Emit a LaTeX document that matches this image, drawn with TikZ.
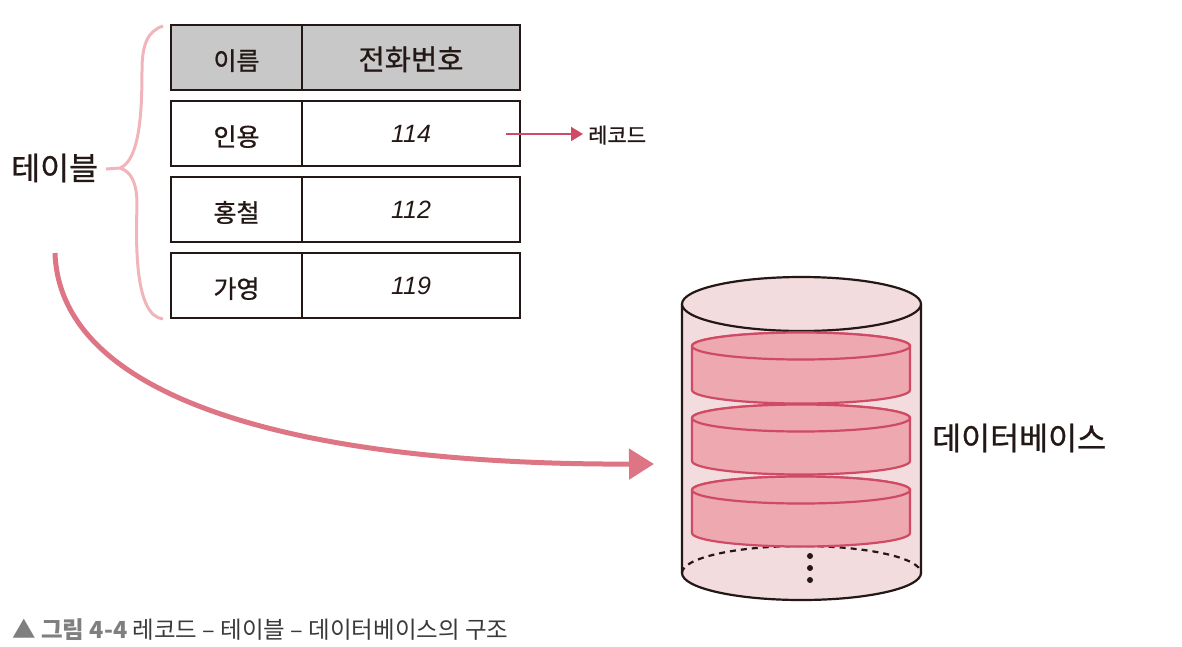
\documentclass[tikz,border=0pt]{standalone}
\usepackage{fontspec}
\usepackage{xcolor}
\usetikzlibrary{positioning,arrows.meta,calc}
\setmainfont{Noto Sans CJK KR}
\newfontfamily\numfont{Liberation Sans}
\newfontfamily\handfont[FakeBold=0.8]{Noto Sans CJK KR}
\definecolor{inkblack}{HTML}{231815}
\definecolor{headgray}{HTML}{C8C8C8}
\definecolor{bracepink}{HTML}{F0B4BA}
\definecolor{curverose}{HTML}{DD7585}
\definecolor{diskline}{HTML}{CF4A64}
\definecolor{diskfill}{HTML}{EEA8B0}
\definecolor{bodyfill}{HTML}{F3DCDE}
\definecolor{capgray}{HTML}{7F7F7F}
\definecolor{captext}{HTML}{3A3A3A}
\tikzset{
  namecell/.style={draw=inkblack,line width=2.4pt,minimum width=131pt,minimum height=65pt,inner sep=0pt,text height=25pt,text depth=0pt,font=\fontsize{25}{28}\selectfont\handfont,text=inkblack},
  phonecell/.style={draw=inkblack,line width=2.4pt,minimum width=218pt,minimum height=65pt,inner sep=0pt,text height=25pt,text depth=0pt,font=\fontsize{28.5}{30}\selectfont\handfont,text=inkblack},
  numtext/.style={text height=18pt,font=\fontsize{25}{28}\selectfont\numfont\itshape},
  disk/.style={draw=diskline,fill=diskfill,line width=2.2pt},
  body/.style={draw=inkblack,fill=bodyfill,line width=2.2pt},
  bigtext/.style={inner sep=0pt,text=inkblack,font=\fontsize{31.5}{34}\selectfont\handfont}
}
\begin{document}
\begin{tikzpicture}[x=1pt,y=-1pt]
    \useasboundingbox (0,0) rectangle (1182,646);
    % table
    \node[namecell,fill=headgray] (nameH) at (236.5,57.5) {이름};
    \node[phonecell,fill=headgray] (phoneH) at (411,57.5) {전화번호};
    \node[namecell] (nameA) at (236.5,133.5) {인용};
    \node[phonecell,numtext] (phoneA) at (411,133.5) {114};
    \node[namecell] (nameB) at (236.5,209.5) {홍철};
    \node[phonecell,numtext] (phoneB) at (411,209.5) {112};
    \node[namecell] (nameC) at (236.5,285.5) {가영};
    \node[phonecell,numtext] (phoneC) at (411,285.5) {119};
    % record arrow
    \coordinate (recStart) at (506,134);
    \node[inner sep=0pt,text=inkblack,font=\fontsize{21}{24}\selectfont\handfont,anchor=west] (record) at (588,135) {레코드};
    \draw[diskline,line width=2pt,shorten >=5pt,-{Triangle[length=12pt,width=14pt]}] (recStart) -- (record.west |- recStart);
    % brace
    \node[bigtext,anchor=west] (tableL) at (11,168) {테이블};
    \draw[bracepink,line width=3pt] (163,26) .. controls (148,31) and (142,44) .. (142,70)
      .. controls (142,110) and (140,160) .. (120,168) -- (106,169)
      (120,168) .. controls (132,172) and (137,184) .. (137,205)
      .. controls (136,240) and (134,316) .. (163,319);
    % big arrow
    \coordinate (curveStart) at (55,253);
    \coordinate (dbIn) at (654,464);
    \draw[curverose,line width=5pt,-{Triangle[length=25pt,width=30pt]}] (curveStart) .. controls (60,400) and (300,465) .. (dbIn);
    % cylinder
    \draw[body] (682,304) -- (682,573) arc[start angle=180,end angle=360,x radius=119.5pt,y radius=27pt] -- (921,304);
    \draw[body] (801.5,304) ellipse[x radius=119.5pt,y radius=27pt];
    \draw[body,fill=none,dash pattern=on 6pt off 5pt] (682,573) arc[start angle=180,end angle=0,x radius=119.5pt,y radius=27pt];
    \draw[disk] (692,346) -- (692,390) arc[start angle=180,end angle=360,x radius=109pt,y radius=13.5pt] -- (910,346) arc[start angle=0,end angle=180,x radius=109pt,y radius=13.5pt] -- cycle;
    \draw[disk] (801,346) ellipse[x radius=109pt,y radius=13.5pt];
    \draw[disk] (692,418) -- (692,461) arc[start angle=180,end angle=360,x radius=109pt,y radius=13.5pt] -- (910,418) arc[start angle=0,end angle=180,x radius=109pt,y radius=13.5pt] -- cycle;
    \draw[disk] (801,418) ellipse[x radius=109pt,y radius=13.5pt];
    \draw[disk] (692,490) -- (692,533) arc[start angle=180,end angle=360,x radius=109pt,y radius=13.5pt] -- (910,490) arc[start angle=0,end angle=180,x radius=109pt,y radius=13.5pt] -- cycle;
    \draw[disk] (801,490) ellipse[x radius=109pt,y radius=13.5pt];
    \fill[inkblack] (810,556) circle[radius=3pt] (810,568) circle[radius=3pt] (810,580) circle[radius=3pt];
    \node[bigtext,anchor=west] (dbL) at (932,438) {데이터베이스};
    % caption
    \node[inner sep=0pt,anchor=west,font=\fontsize{23.5}{26}\selectfont,text=captext] (caption) at (12,630) {\textcolor{capgray}{\textbf{▲ 그림 4-4}} 레코드 – 테이블 – 데이터베이스의 구조};
\end{tikzpicture}
\end{document}
